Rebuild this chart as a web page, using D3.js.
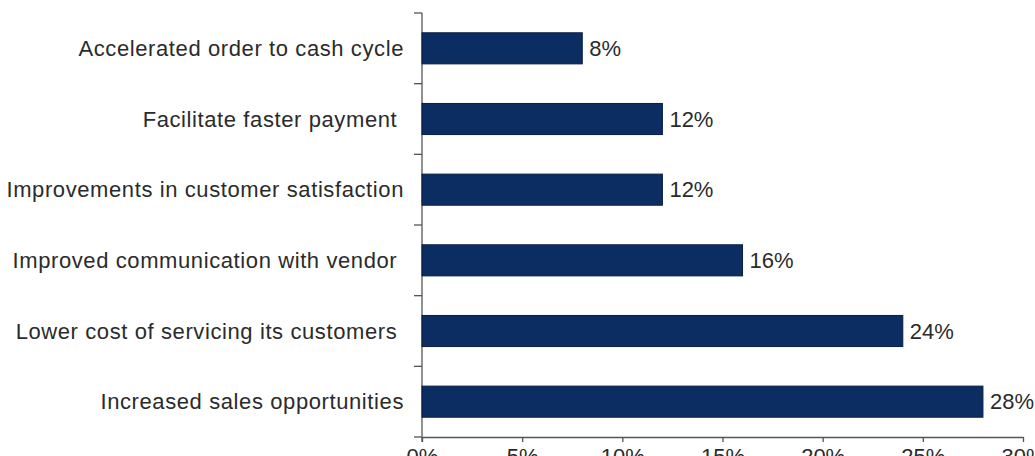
<!DOCTYPE html>
<html>
<head>
<meta charset="utf-8">
<script src="https://cdn.jsdelivr.net/npm/d3@7"></script>
<style>
  body { margin: 0; background: #fff; }
  svg text { font-family: "Liberation Sans", Arial, sans-serif; fill: #2b2b2b; white-space: pre; }
</style>
</head>
<body>
<script>
// data
const categories = [
    "Accelerated order to cash cycle",
    "Facilitate faster payment ",
    "Improvements in customer satisfaction",
    "Improved communication with vendor ",
    "Lower cost of servicing its customers ",
    "Increased sales opportunities"
];
const values = [8, 12, 12, 16, 24, 28];
const xTicks = [0, 5, 10, 15, 20, 25, 30];

const w = 1035, h = 456;
const plotLeft = 422, plotRight = 1023, plotTop = 13, plotBottom = 437;

const svg = d3.select("body")
    .append("svg")
    .attr("width", w)
    .attr("height", h);

//scales
const xScale = d3.scaleLinear().domain([0, 30]).range([plotLeft, plotRight]);
const yScale = d3.scaleBand().domain(categories).range([plotTop, plotBottom]).paddingInner(0.56).paddingOuter(0.28);

// y axis: line plus ticks between the categories
const yg = svg.append("g").attr("class", "y-axis");
yg.append("line")
    .attr("x1", plotLeft).attr("x2", plotLeft)
    .attr("y1", plotTop).attr("y2", plotBottom + 5)
    .attr("stroke", "#555").attr("stroke-width", 1.3);
const step = yScale.step();
yg.selectAll(".ytick")
    .data(d3.range(categories.length + 1))
    .enter()
    .append("line")
    .attr("class", "ytick")
    .attr("x1", plotLeft - 8).attr("x2", plotLeft)
    .attr("y1", i => plotTop + i * step).attr("y2", i => plotTop + i * step)
    .attr("stroke", "#555").attr("stroke-width", 1.3);

// x axis (labels sit at the bottom edge, mostly cut off as in the picture)
const xAxis = d3.axisBottom(xScale)
    .tickValues(xTicks)
    .tickSize(5)
    .tickSizeOuter(0)
    .tickPadding(6)
    .tickFormat(d => d + "%");
const xg = svg.append("g")
    .attr("transform", "translate(0," + plotBottom + ")")
    .call(xAxis);
xg.select(".domain").attr("stroke", "#555").attr("stroke-width", 1.3);
xg.selectAll(".tick line").attr("stroke", "#555").attr("stroke-width", 1.3);
xg.selectAll(".tick text").style("font-size", "22px").attr("fill", "#aaa");

// category labels
svg.selectAll(".cat")
    .data(categories)
    .enter()
    .append("text")
    .attr("class", "cat")
    .attr("x", 404)
    .attr("y", d => yScale(d) + yScale.bandwidth() / 2)
    .attr("dy", "0.35em")
    .attr("text-anchor", "end")
    .style("font-size", "22px")
    .style("letter-spacing", "0.6px")
    .text(d => d);

// bars
svg.selectAll(".bar")
    .data(values)
    .enter()
    .append("rect")
    .attr("class", "bar")
    .attr("x", xScale(0))
    .attr("y", (d, i) => yScale(categories[i]))
    .attr("width", d => xScale(d) - xScale(0))
    .attr("height", yScale.bandwidth())
    .attr("fill", "#0c2d61")
    .attr("stroke", "#071d45")
    .attr("stroke-width", 1);

// value labels
svg.selectAll(".val")
    .data(values)
    .enter()
    .append("text")
    .attr("class", "val")
    .attr("x", d => xScale(d) + 7)
    .attr("y", (d, i) => yScale(categories[i]) + yScale.bandwidth() / 2)
    .attr("dy", "0.35em")
    .style("font-size", "22px")
    .text(d => d + "%");
</script>
</body>
</html>
